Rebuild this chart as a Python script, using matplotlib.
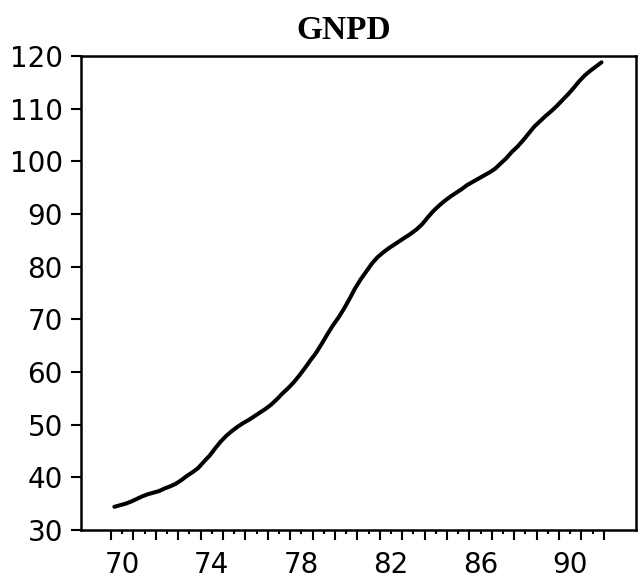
import matplotlib
matplotlib.use("Agg")
import matplotlib.pyplot as plt
import numpy as np

title = "GNPD"
start_year = 1970
# quarterly values, 1970Q1 .. 1991Q4
gnpd = [
    34.4, 34.7, 35.0, 35.4,   # 1970
    35.9, 36.4, 36.8, 37.1,   # 1971
    37.4, 37.9, 38.3, 38.8,   # 1972
    39.5, 40.3, 41.0, 41.8,   # 1973
    43.0, 44.1, 45.5, 46.8,   # 1974
    47.9, 48.8, 49.6, 50.3,   # 1975
    50.9, 51.6, 52.3, 53.0,   # 1976
    53.8, 54.8, 55.9, 56.9,   # 1977
    58.0, 59.3, 60.7, 62.2,   # 1978
    63.6, 65.3, 67.1, 68.8,   # 1979
    70.3, 72.0, 73.9, 75.9,   # 1980
    77.6, 79.1, 80.6, 81.8,   # 1981
    82.7, 83.5, 84.2, 84.9,   # 1982
    85.6, 86.3, 87.1, 88.1,   # 1983
    89.4, 90.6, 91.6, 92.5,   # 1984
    93.3, 94.0, 94.7, 95.5,   # 1985
    96.1, 96.7, 97.3, 97.9,   # 1986
    98.6, 99.6, 100.6, 101.8, # 1987
    102.8, 104.0, 105.3, 106.6,  # 1988
    107.6, 108.6, 109.5, 110.5,  # 1989
    111.6, 112.7, 113.9, 115.2,  # 1990
    116.3, 117.2, 118.0, 118.8,  # 1991
]
x_labels = ["70", "74", "78", "82", "86", "90"]
y_ticks = [30, 40, 50, 60, 70, 80, 90, 100, 110, 120]

t = start_year + np.arange(len(gnpd)) / 4.0 + 0.15

fig = plt.figure(figsize=(6.44, 5.82), dpi=100)
ax = fig.add_axes([81/644, 1-530/582, (636-81)/644, (530-56)/582])
ax.plot(t, gnpd, color="black", lw=2.9, solid_capstyle="round", solid_joinstyle="round")

ax.set_xlim(1968.66, 1993.44)
ax.set_ylim(30, 120)

years = np.arange(1970, 1993)
ax.set_xticks(years)
ax.set_xticklabels([""] * len(years))
halves = years[:-1] + 0.5
ax.set_xticks(halves, minor=True)
lab_map = {1900 + int(s) + 0.5: s for s in x_labels}
ax.set_xticklabels([lab_map.get(h, "") for h in halves], minor=True)
ax.tick_params(axis="x", which="major", direction="out", length=7, width=1.5)
ax.tick_params(axis="x", which="minor", direction="out", length=3, width=1.5,
               labelsize=20, pad=12)

ax.set_yticks(y_ticks)
ax.set_yticklabels([str(v) for v in y_ticks])
ax.tick_params(axis="y", direction="out", length=7, width=1.5, labelsize=20, pad=6)

for s in ax.spines.values():
    s.set_linewidth(1.8)

fig.text(344/644, 1-39/582, title, ha="center", va="baseline",
         fontsize=24, fontweight="bold", family="Liberation Serif")

fig.savefig("out.png", dpi=100)
